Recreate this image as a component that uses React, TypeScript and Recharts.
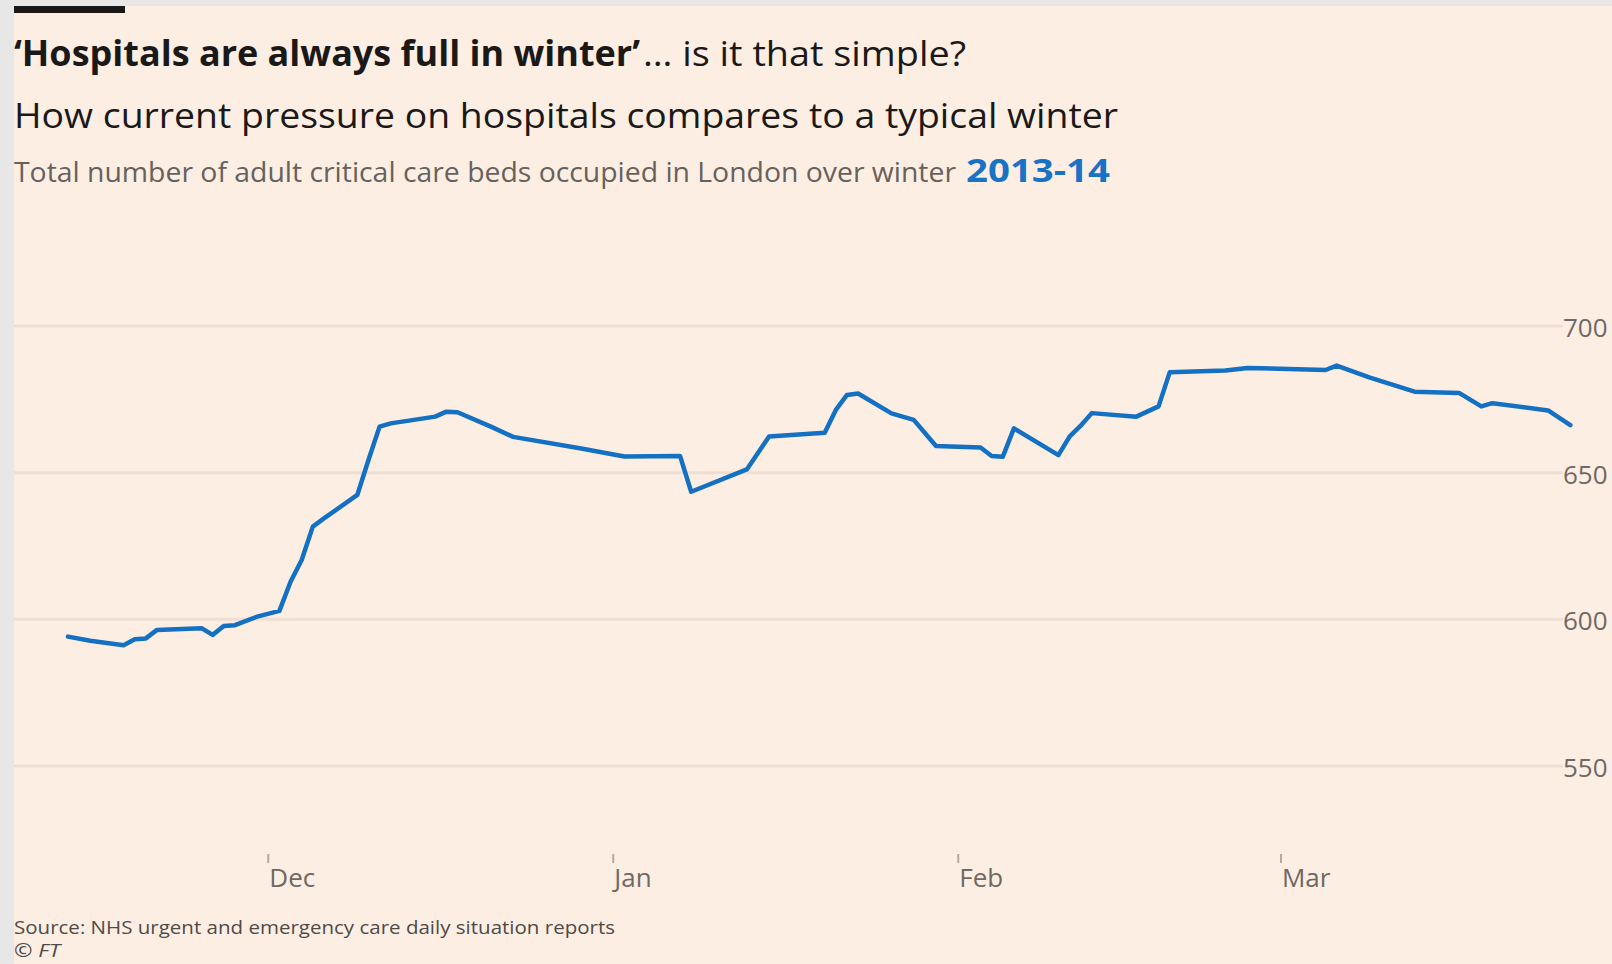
import React from 'react';
import { LineChart, Line, XAxis, YAxis, CartesianGrid } from 'recharts';

// Days counted from 1 December 2013 (negative = November)
const dayOffsets = [
  -18, -16, -13, -12, -11, -10, -6, -5, -4, -3, -1, 1, 2, 3, 4, 5, 8, 9, 10, 11,
  15, 16, 17, 20, 22, 28, 32, 37, 38, 43, 45, 50, 51, 52, 53, 56, 58, 60, 64, 65,
  66, 67, 71, 72, 73, 74, 78, 80, 81, 86, 88, 95, 96, 99, 103, 107, 109, 110, 115, 117,
];

// Adult critical care beds occupied in London
const bedsOccupied = [
  594.1, 592.7, 591.2, 593.2, 593.5, 596.4, 597, 594.7, 597.7, 598, 600.9, 602.9, 612.8, 620.2, 631.6, 634.4, 642.4, 654.3, 665.7, 666.8,
  669.1, 670.8, 670.6, 665.7, 662.2, 658.3, 655.5, 655.7, 643.5, 651.1, 662.3, 663.6, 671.4, 676.5, 677, 670.2, 668, 659.1, 658.6, 655.7,
  655.4, 665.1, 656, 662.3, 666, 670.3, 669.1, 672.6, 684.2, 684.8, 685.7, 685, 686.5, 682.4, 677.6, 677.2, 672.6, 673.7, 671.2, 666.2,
];

const monthTicks = [0, 31, 62, 91];
const monthLabels = ['Dec', 'Jan', 'Feb', 'Mar'];
const valueTicks = [550, 600, 650, 700];

const data = dayOffsets.map((d, i) => ({ day: d, beds: bedsOccupied[i] }));

const FONT = '"Open Sans", "DejaVu Sans", sans-serif';
const PINK = '#fdeee4';
const GRID = '#efdfd3';
const AXIS_TEXT = '#6f6863';

const XTick = (props: any) => {
  const { x, y, payload } = props;
  const i = monthTicks.indexOf(payload.value);
  return (
    <text x={x + 1} y={y + 22} fill={AXIS_TEXT} fontSize={26} fontFamily={FONT} textAnchor="start">
      {monthLabels[i]}
    </text>
  );
};

const YTick = (props: any) => {
  const { x, y, payload } = props;
  return (
    <text x={x - 9} y={y + 1} fill={AXIS_TEXT} fontSize={26} fontFamily={FONT} textAnchor="start" dominantBaseline="central">
      {payload.value}
    </text>
  );
};

const gridLine = (p: any) => {
  const atEdge = Math.abs(p.y1 - p.y) < 1 || Math.abs(p.y1 - (p.y + p.height)) < 1;
  if (atEdge) return <g key={p.key} />;
  return <line key={p.key} x1={p.x1} x2={p.x2 - 9} y1={p.y1} y2={p.y2} stroke={GRID} strokeWidth={3} />;
};

export default function App() {
  return (
    <div style={{ position: 'absolute', left: 0, top: 0, width: 1612, height: 964, background: '#e7e7e7', overflow: 'hidden' }}>
      <div style={{ position: 'absolute', left: 14, top: 6, right: 0, bottom: 0, background: PINK }} />
      <div style={{ position: 'absolute', left: 14, top: 6, width: 111, height: 7, background: '#1a1817' }} />
      <svg width={1612} height={964} style={{ position: 'absolute', left: 0, top: 0 }}>
        <text x={14} y={66} fontFamily={FONT} fontSize={35} fontWeight={700} fill="#1b1918" textLength={626} lengthAdjust="spacingAndGlyphs">
          ‘Hospitals are always full in winter’
        </text>
        <text x={643} y={66} fontFamily={FONT} fontSize={35} fontWeight={400} fill="#1b1918" textLength={323} lengthAdjust="spacingAndGlyphs">
          … is it that simple?
        </text>
        <text x={14} y={128} fontFamily={FONT} fontSize={35} fontWeight={400} fill="#1b1918" textLength={1104} lengthAdjust="spacingAndGlyphs">
          How current pressure on hospitals compares to a typical winter
        </text>
        <text x={14} y={182} fontFamily={FONT} fontSize={27} fontWeight={400} fill="#67615c" textLength={942} lengthAdjust="spacingAndGlyphs">
          Total number of adult critical care beds occupied in London over winter
        </text>
        <text x={966} y={182} fontFamily={FONT} fontSize={33} fontWeight={700} fill="#1a72c4" textLength={144} lengthAdjust="spacingAndGlyphs">
          2013-14
        </text>
        <text x={14} y={934} fontFamily={FONT} fontSize={19} fill="#4f4a46" textLength={601} lengthAdjust="spacingAndGlyphs">
          Source: NHS urgent and emergency care daily situation reports
        </text>
        <text x={14} y={957} fontFamily={FONT} fontSize={18} fontStyle="italic" fill="#4f4a46" textLength={46} lengthAdjust="spacingAndGlyphs">
          © FT
        </text>
      </svg>
      <div style={{ position: 'absolute', left: 0, top: 0 }}>
        <LineChart width={1612} height={964} data={data} margin={{ top: 194, right: 0, bottom: 70, left: 14 }}>
          <CartesianGrid vertical={false} horizontal={gridLine} />
          <XAxis
            dataKey="day"
            type="number"
            domain={[-22.85, 117.15]}
            ticks={monthTicks}
            axisLine={false}
            tickLine={{ stroke: '#b2a9a2', strokeWidth: 2 }}
            tickSize={9}
            height={40}
            tick={XTick}
            interval={0}
          />
          <YAxis
            orientation="right"
            type="number"
            domain={[520, 745]}
            ticks={valueTicks}
            axisLine={false}
            tickLine={false}
            tickSize={0}
            tickMargin={0}
            width={40}
            tick={YTick}
            interval={0}
          />
          <Line
            type="linear"
            dataKey="beds"
            stroke="#1370c2"
            strokeWidth={4.5}
            strokeLinejoin="round"
            strokeLinecap="round"
            dot={false}
            isAnimationActive={false}
          />
        </LineChart>
      </div>
    </div>
  );
}
